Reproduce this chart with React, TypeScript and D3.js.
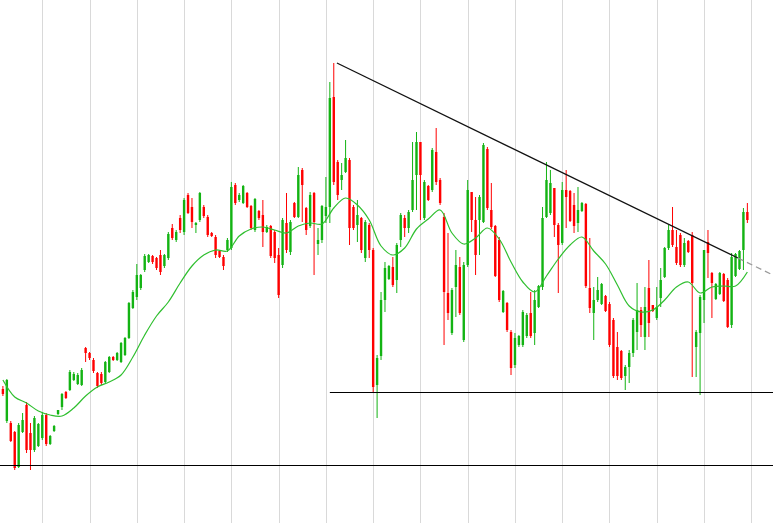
import { useRef, useEffect } from "react";
import * as d3 from "d3";

// OHLC (price units, one candle per bar, 190 bars)
const opens = [
  134, 102, 100, 91, 56, 91, 118, 90, 73, 77, 85, 108, 79, 92, 109, 116, 131, 133, 143, 139,
  138, 175, 170, 163, 150, 149, 141, 151, 166, 163, 161, 168, 185, 215, 226, 235, 253, 261, 267, 265,
  268, 257, 265, 295, 283, 305, 291, 328, 316, 298, 303, 316, 306, 290, 286, 272, 266, 273, 275, 338,
  323, 320, 330, 317, 293, 312, 308, 291, 297, 291, 268, 258, 300, 271, 320, 306, 353, 315, 297, 330,
  279, 283, 307, 316, 426, 361, 343, 351, 363, 316, 298, 305, 265, 298, 273, 138, 167, 223, 244, 256,
  243, 283, 305, 295, 313, 348, 381, 305, 337, 333, 371, 343, 306, 230, 190, 236, 256, 183, 258, 331,
  303, 303, 301, 374, 313, 297, 283, 211, 220, 191, 158, 178, 178, 187, 210, 190, 216, 236, 306, 310,
  335, 298, 280, 333, 332, 318, 300, 312, 319, 235, 210, 223, 219, 227, 219, 203, 176, 172, 147, 156,
  170, 191, 213, 186, 235, 218, 205, 225, 246, 275, 293, 276, 288, 258, 282, 288, 176, 190, 223, 281,
  250, 224, 229, 249, 243, 198, 247, 254, 273, 311,
];
const highs = [
  137, 144, 102, 92, 100, 110, 121, 100, 107, 100, 111, 110, 88, 98, 113, 130, 132, 153, 151, 150,
  155, 176, 171, 165, 151, 151, 162, 167, 167, 171, 181, 186, 221, 233, 259, 249, 269, 269, 268, 266,
  273, 269, 291, 299, 293, 308, 325, 330, 325, 301, 331, 318, 308, 291, 288, 273, 268, 285, 341, 340,
  330, 338, 331, 318, 325, 313, 323, 298, 298, 293, 275, 305, 330, 303, 321, 356, 355, 316, 331, 331,
  295, 318, 346, 441, 460, 363, 360, 383, 365, 318, 323, 306, 303, 300, 275, 168, 231, 261, 258, 266,
  280, 310, 308, 313, 381, 391, 381, 343, 338, 375, 395, 345, 310, 290, 235, 273, 266, 261, 343, 331,
  326, 328, 380, 376, 340, 298, 286, 233, 221, 193, 190, 188, 213, 210, 231, 233, 238, 316, 361, 353,
  335, 300, 341, 353, 333, 330, 336, 321, 320, 285, 236, 246, 240, 228, 221, 205, 191, 173, 158, 173,
  205, 240, 216, 236, 263, 218, 236, 255, 276, 298, 316, 293, 290, 285, 283, 291, 193, 228, 273, 293,
  251, 240, 251, 250, 245, 270, 270, 273, 315, 320,
];
const lows = [
  127, 100, 81, 53, 55, 90, 70, 53, 71, 76, 83, 77, 78, 91, 108, 113, 124, 132, 142, 138,
  137, 161, 163, 150, 135, 138, 140, 150, 162, 162, 160, 167, 184, 214, 223, 233, 251, 260, 259, 253,
  248, 255, 263, 283, 281, 290, 288, 309, 295, 290, 301, 305, 286, 286, 265, 265, 253, 271, 273, 318,
  321, 319, 315, 293, 291, 303, 276, 290, 265, 260, 225, 255, 270, 268, 305, 305, 301, 288, 295, 248,
  268, 280, 300, 300, 338, 323, 333, 350, 278, 293, 281, 270, 261, 265, 130, 105, 163, 211, 243, 236,
  230, 276, 286, 290, 311, 313, 303, 303, 322, 331, 338, 318, 178, 203, 188, 206, 208, 181, 256, 291,
  248, 268, 300, 313, 294, 246, 221, 210, 191, 148, 155, 176, 176, 185, 185, 178, 215, 233, 305, 308,
  286, 230, 278, 295, 301, 290, 291, 311, 235, 210, 183, 221, 218, 211, 176, 145, 143, 143, 133, 140,
  166, 173, 186, 173, 186, 211, 203, 216, 245, 273, 276, 258, 256, 256, 270, 146, 146, 128, 200, 245,
  205, 223, 228, 221, 195, 195, 246, 253, 253, 300,
];
const closes = [
  129, 143, 82, 55, 98, 103, 73, 73, 105, 99, 108, 79, 87, 97, 113, 129, 125, 151, 149, 148,
  153, 170, 165, 152, 137, 140, 161, 166, 163, 170, 180, 185, 220, 231, 248, 248, 267, 268, 261, 255,
  251, 268, 289, 285, 291, 293, 323, 310, 301, 300, 330, 307, 288, 287, 268, 266, 257, 283, 336, 320,
  328, 337, 316, 295, 324, 305, 291, 296, 267, 265, 228, 303, 273, 301, 306, 348, 338, 293, 328, 301,
  283, 317, 316, 425, 341, 328, 348, 365, 295, 295, 308, 273, 301, 273, 136, 165, 223, 255, 257, 238,
  278, 308, 295, 311, 343, 381, 348, 341, 323, 373, 341, 320, 231, 210, 233, 258, 210, 258, 333, 303,
  268, 326, 378, 315, 296, 247, 223, 232, 193, 155, 185, 187, 211, 208, 187, 223, 237, 305, 343, 340,
  298, 278, 333, 326, 302, 297, 313, 320, 237, 215, 223, 233, 239, 212, 178, 147, 147, 145, 156, 170,
  203, 213, 198, 216, 200, 212, 216, 243, 275, 293, 278, 260, 258, 280, 271, 240, 191, 226, 273, 270,
  240, 239, 250, 222, 196, 266, 269, 272, 311, 303,
];

// moving average, read every 3rd bar (bar 0, 3, 6 ... 189)
const maStep = 3;
const maValues = [
  143, 126, 120, 112, 108, 107, 115, 127, 136, 141, 148, 166, 188, 207, 221, 240,
  257, 268, 273, 272, 287, 294, 296, 293, 290, 297, 300, 299, 315, 325, 318, 303,
  277, 268, 275, 294, 304, 313, 290, 279, 285, 295, 284, 261, 241, 231, 247, 264,
  278, 286, 272, 259, 238, 217, 211, 213, 223, 236, 241, 230, 236, 237, 237, 251,
];

// horizontal levels: [price, first bar]
const levelPrices = [58, 131];
const levelStartBars = [-1, 83];
// falling trend line: bar positions and prices (solid part, then projection)
const trendBars = [84.8, 186.6, 195.5];
const trendPrices = [460, 265, 248];

const W = 773;
const H = 523;
const UP = "#13b313";
const DOWN = "#ff0000";

export default function App() {
  const svgRef = useRef<SVGSVGElement>(null);

  useEffect(() => {
    if (!svgRef.current) return;
    const svg = d3.select(svgRef.current);
    svg.selectAll("*").remove();

    const n = opens.length;
    const x = d3.scaleLinear().domain([0, 190]).range([2.9, 751.3]);
    const y = d3.scaleLinear().domain([0, 523]).range([H, 0]);

    svg.append("rect").attr("width", W).attr("height", H).attr("fill", "#fff");

    // vertical grid every 12 bars
    const gridBars = d3.range(10, 191, 12);
    svg
      .append("g")
      .selectAll("line")
      .data(gridBars)
      .enter()
      .append("line")
      .attr("x1", (d) => Math.round(x(d)) + 0.5)
      .attr("x2", (d) => Math.round(x(d)) + 0.5)
      .attr("y1", 0)
      .attr("y2", H)
      .attr("stroke", "#d9d9d9")
      .attr("stroke-width", 1);

    const idx = d3.range(n);
    const g = svg.append("g");

    // wicks
    g.selectAll(".wick")
      .data(idx)
      .enter()
      .append("line")
      .attr("x1", (i) => x(i))
      .attr("x2", (i) => x(i))
      .attr("y1", (i) => y(highs[i]))
      .attr("y2", (i) => y(lows[i]))
      .attr("stroke", (i) => (closes[i] >= opens[i] ? UP : DOWN))
      .attr("stroke-width", 1);

    // bodies
    g.selectAll(".body")
      .data(idx)
      .enter()
      .append("rect")
      .attr("x", (i) => x(i) - 1.2)
      .attr("width", 2.4)
      .attr("y", (i) => y(Math.max(opens[i], closes[i])))
      .attr("height", (i) => Math.max(1, Math.abs(y(opens[i]) - y(closes[i]))))
      .attr("fill", (i) => (closes[i] >= opens[i] ? UP : DOWN));

    // moving average
    const line = d3
      .line<number>()
      .x((_, k) => x(k * maStep))
      .y((d) => y(d))
      .curve(d3.curveCatmullRom);
    svg
      .append("path")
      .attr("d", line(maValues))
      .attr("fill", "none")
      .attr("stroke", "#2fbf2f")
      .attr("stroke-width", 1.2);

    // horizontal levels
    levelPrices.forEach((p, k) => {
      svg
        .append("line")
        .attr("x1", Math.max(0, x(levelStartBars[k])))
        .attr("x2", W)
        .attr("y1", Math.round(y(p)) + 0.5)
        .attr("y2", Math.round(y(p)) + 0.5)
        .attr("stroke", "#000")
        .attr("stroke-width", 1);
    });

    // trend line + dashed projection
    svg
      .append("line")
      .attr("x1", x(trendBars[0]))
      .attr("y1", y(trendPrices[0]))
      .attr("x2", x(trendBars[1]))
      .attr("y2", y(trendPrices[1]))
      .attr("stroke", "#111")
      .attr("stroke-width", 1.3);
    svg
      .append("line")
      .attr("x1", x(trendBars[1]))
      .attr("y1", y(trendPrices[1]))
      .attr("x2", x(trendBars[2]))
      .attr("y2", y(trendPrices[2]))
      .attr("stroke", "#999")
      .attr("stroke-width", 1.2)
      .attr("stroke-dasharray", "6,4");
  }, []);

  return (
    <svg
      ref={svgRef}
      width={W}
      height={H}
      style={{ position: "absolute", left: 0, top: 0, display: "block" }}
    />
  );
}
